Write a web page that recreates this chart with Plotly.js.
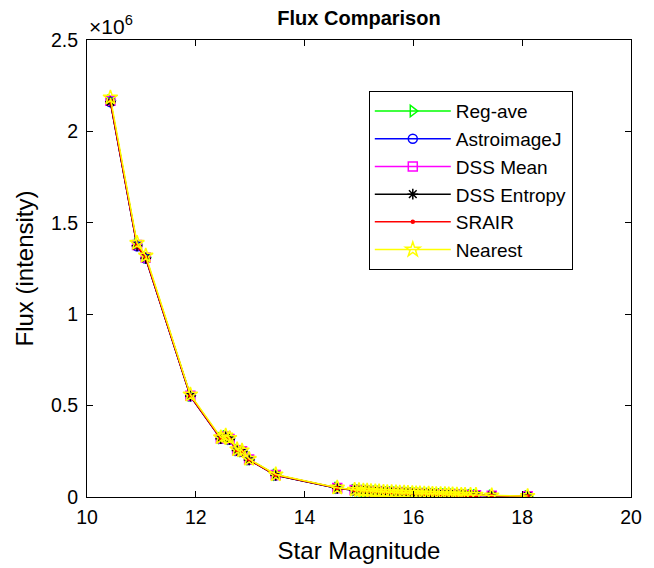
<!DOCTYPE html>
<html>
<head>
<meta charset="utf-8">
<script src="https://cdn.plot.ly/plotly-3.0.1.min.js"></script>
<style>html,body{margin:0;padding:0;background:#fff;}#chart{width:654px;height:568px;}</style>
</head>
<body>
<div id="chart"></div>
<script>
// Star magnitudes (x)
var magnitude = [10.43,10.92,11.08,11.90,12.46,12.55,12.62,12.76,12.85,12.98,13.47,14.60,
  14.92,15.00,15.08,15.15,15.22,15.30,15.37,15.45,15.52,15.60,
  15.68,15.75,15.83,15.90,15.98,16.05,16.12,16.20,16.28,16.35,
  16.42,16.50,16.58,16.65,16.72,16.80,16.88,16.95,17.05,17.15,
  17.44,18.10];

// Flux values in units of 1e6
var regAve = [2.170,1.382,1.312,0.556,0.322,0.332,0.318,0.257,0.251,0.206,0.121,0.050,
  0.038,0.036,0.034,0.033,0.031,0.030,0.029,0.027,0.026,0.025,
  0.024,0.023,0.022,0.021,0.020,0.019,0.018,0.017,0.017,0.016,
  0.015,0.014,0.014,0.013,0.013,0.012,0.011,0.011,0.010,0.010,
  0.007,0.004];
var astroimageJ = [2.160,1.372,1.305,0.551,0.318,0.328,0.314,0.253,0.248,0.203,0.119,0.048,
  0.037,0.035,0.034,0.032,0.031,0.029,0.028,0.027,0.026,0.025,
  0.024,0.023,0.022,0.021,0.020,0.019,0.018,0.017,0.016,0.016,
  0.015,0.014,0.013,0.013,0.012,0.012,0.011,0.010,0.010,0.009,
  0.007,0.004];
var dssMean = [2.168,1.378,1.310,0.554,0.321,0.331,0.317,0.256,0.250,0.205,0.120,0.049,
  0.038,0.036,0.034,0.033,0.031,0.030,0.029,0.027,0.026,0.025,
  0.024,0.023,0.022,0.021,0.020,0.019,0.018,0.017,0.017,0.016,
  0.015,0.014,0.014,0.013,0.013,0.012,0.011,0.011,0.010,0.010,
  0.007,0.004];
var dssEntropy = [2.162,1.374,1.306,0.552,0.319,0.329,0.315,0.254,0.248,0.203,0.119,0.048,
  0.037,0.036,0.034,0.032,0.031,0.030,0.028,0.027,0.026,0.025,
  0.024,0.023,0.022,0.021,0.020,0.019,0.018,0.017,0.016,0.016,
  0.015,0.014,0.014,0.013,0.012,0.012,0.011,0.011,0.010,0.010,
  0.007,0.004];
var srair = [2.165,1.375,1.308,0.553,0.320,0.330,0.316,0.255,0.249,0.204,0.120,0.049,
  0.038,0.036,0.034,0.033,0.031,0.030,0.029,0.027,0.026,0.025,
  0.024,0.023,0.022,0.021,0.020,0.019,0.018,0.017,0.017,0.016,
  0.015,0.014,0.014,0.013,0.013,0.012,0.011,0.011,0.010,0.010,
  0.007,0.004];
var nearest = [2.185,1.390,1.320,0.560,0.326,0.336,0.322,0.260,0.254,0.208,0.123,0.051,
  0.039,0.037,0.035,0.034,0.032,0.031,0.030,0.028,0.027,0.026,
  0.025,0.024,0.023,0.022,0.021,0.020,0.019,0.018,0.018,0.017,
  0.016,0.015,0.015,0.014,0.014,0.013,0.012,0.012,0.011,0.011,
  0.008,0.005];

var seriesNames = ["Reg-ave","AstroimageJ","DSS Mean","DSS Entropy","SRAIR","Nearest"];
var xTicks = [10,12,14,16,18,20];
var yTicks = [0,0.5,1,1.5,2,2.5];
var yTickText = ["0","0.5","1","1.5","2","2.5"];

var seriesData = [regAve, astroimageJ, dssMean, dssEntropy, srair, nearest];
var colors = ["#00ff00","#0000ff","#ff00ff","#000000","#ff0000","#ffff00"];
var symbols = ["triangle-right-open","circle-open","square-open","asterisk-open","circle","star-open"];
var sizes = [10,9,9,9,3,11];

var traces = seriesNames.map(function(name, i){
  return {
    x: magnitude, y: seriesData[i], name: name, type: "scatter", mode: "lines+markers",
    line: {color: colors[i], width: 1.5},
    marker: {symbol: symbols[i], size: sizes[i], color: colors[i], line: {color: colors[i], width: 1.5}}
  };
});

var font = "Liberation Sans, Arial, Helvetica, sans-serif";
var layout = {
  width: 654, height: 568,
  margin: {l: 87, r: 23, t: 40, b: 71},
  paper_bgcolor: "#fff", plot_bgcolor: "#fff",
  font: {family: font, color: "#000", size: 19},
  title: {text: "<b>Flux Comparison</b>", font: {family: font, size: 20, color: "#000"}, xref: "paper", x: 0.5, xanchor: "center", y: 0.968, yanchor: "middle"},
  xaxis: {
    range: [10, 20], tickvals: xTicks, ticks: "inside", ticklen: 6, tickwidth: 1, tickcolor: "#000",
    showline: true, linecolor: "#000", linewidth: 1, mirror: "ticks", showgrid: false, zeroline: false,
    tickfont: {size: 19.5, family: font}, ticklabelstandoff: 3,
    title: {text: "Star Magnitude", font: {size: 24, family: font}, standoff: 14}
  },
  yaxis: {
    range: [0, 2.5], tickvals: yTicks, ticktext: yTickText, ticks: "inside", ticklen: 6, tickwidth: 1, tickcolor: "#000",
    showline: true, linecolor: "#000", linewidth: 1, mirror: "ticks", showgrid: false, zeroline: false,
    tickfont: {size: 19.5, family: font}, ticklabelstandoff: 4,
    title: {text: "Flux (intensity)", font: {size: 24, family: font}, standoff: 10}
  },
  legend: {
    x: 0.518, y: 0.888, xanchor: "left", yanchor: "top",
    bgcolor: "#fff", bordercolor: "#000", borderwidth: 1,
    font: {size: 19, family: font}, itemwidth: 76, tracegroupgap: 0
  },
  annotations: [{
    xref: "paper", yref: "paper", x: 0, y: 1, xanchor: "left", yanchor: "bottom", yshift: 0,
    text: "×10<sup>6</sup>", showarrow: false, font: {size: 21, family: font}
  }],
  showlegend: true
};

Plotly.newPlot("chart", traces, layout, {displayModeBar: false, staticPlot: true});
</script>
</body>
</html>
